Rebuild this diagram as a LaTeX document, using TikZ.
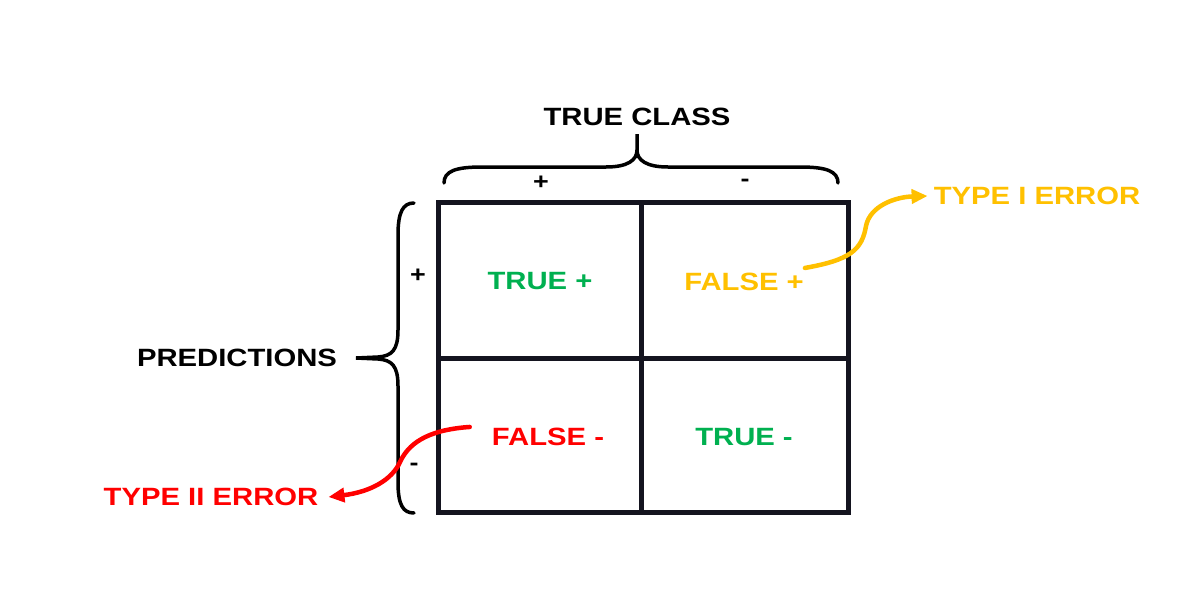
\documentclass[tikz,border=0pt]{standalone}
\usepackage{fontspec}
\newfontfamily\labfont[FakeStretch=1.17]{Liberation Sans}
\usetikzlibrary{arrows.meta}
\definecolor{gridink}{HTML}{14141F}
\definecolor{okgreen}{HTML}{00B050}
\definecolor{warnyellow}{HTML}{FFC000}
\definecolor{errred}{HTML}{FF0000}
\begin{document}
\begin{tikzpicture}[x=1pt,y=-1pt,
  lab/.style={font=\labfont\bfseries\fontsize{25}{27}\selectfont, inner sep=0pt, anchor=center},
  sign/.style={font=\labfont\bfseries\fontsize{23}{25}\selectfont, inner sep=0pt},
  gridline/.style={draw=gridink, line width=5pt},
  bracepath/.style={draw=black, line width=3.5pt, line cap=round},
  errarrow/.style={line width=4.5pt, line cap=round, -{Triangle[length=16pt,width=14pt]}}]
\useasboundingbox (0,0) rectangle (1200,600);

% confusion matrix grid
\draw[gridline] (438,202) rectangle (848,512);
\draw[gridline] (641,202) -- (641,512);
\draw[gridline] (438,358) -- (848,358);

% cell labels
\node[lab, text=okgreen]    (tp) at (540,281) {TRUE +};
\node[lab, text=warnyellow] (fp) at (744,282) {FALSE +};
\node[lab, text=errred]     (fn) at (548,437) {FALSE -};
\node[lab, text=okgreen]    (tn) at (744,437) {TRUE -};

% axis headings
\node[lab] (trueclass) at (637,117) {TRUE CLASS};
\node[lab] (pred) at (237,358) {PREDICTIONS};
\node[sign] (colpos) at (541,183) {+};
\node[sign] (colneg) at (745,183) {-};
\node[sign] (rowpos) at (418,276) {+};
\node[sign] (rowneg) at (414,467) {-};

% top brace
\draw[bracepath] (444,183) .. controls (444,171) and (456,167) .. (482,167)
  -- (606,167) .. controls (628,167) and (637,160) .. (637,150) -- (637,134)
  -- (637,150) .. controls (637,160) and (646,167) .. (668,167)
  -- (800,167) .. controls (826,167) and (838,171) .. (838,183);

% left brace
\draw[bracepath] (414,203) .. controls (403,203) and (398,212) .. (398,235)
  -- (398,330) .. controls (398,350) and (392,356) .. (378,357) -- (356,358)
  -- (378,359) .. controls (392,360) and (398,366) .. (398,386)
  -- (398,482) .. controls (398,505) and (403,513) .. (414,513);

% error labels and arrows
\node[lab, text=warnyellow] (type1) at (1037,196) {TYPE I ERROR};
\node[lab, text=errred]     (type2) at (211,497) {TYPE II ERROR};

\draw[errarrow, draw=warnyellow]
  ([shift={(1,-5)}]fp.north east) .. controls (850,260) and (862,250) .. (866,226)
  .. controls (870,206) and (895,197) .. ([xshift=-6pt]type1.west);
\draw[errarrow, draw=errred]
  ([shift={(-22,-1)}]fn.north west) .. controls (425,430) and (408,445) .. (400,462)
  .. controls (392,480) and (370,492) .. ([xshift=10pt]type2.east);
\end{tikzpicture}
\end{document}
